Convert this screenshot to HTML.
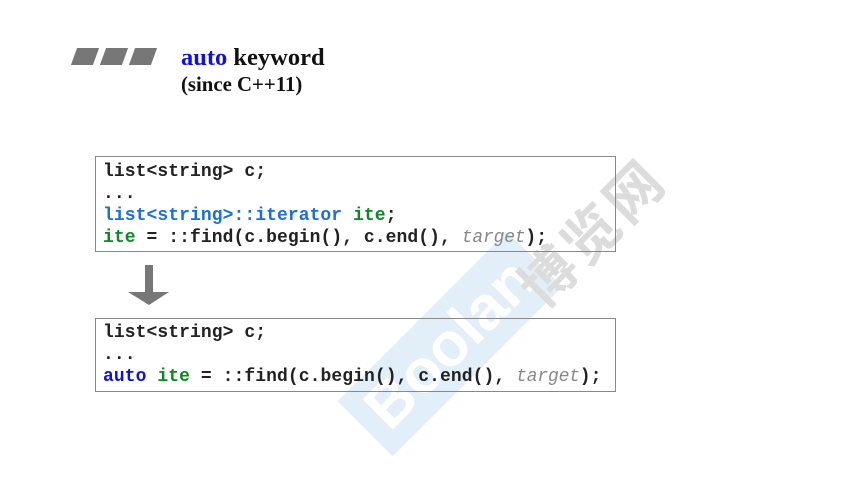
<!DOCTYPE html>
<html><head><meta charset="utf-8"><style>
body{margin:0;width:856px;height:490px;background:#fff;position:relative;overflow:hidden;font-family:"Liberation Sans",sans-serif}
.a{position:absolute}
.bar{position:absolute;top:48px;width:22px;height:17px;background:#777;transform:skewX(-20deg)}
.box{position:absolute;left:95px;width:521px;border:1px solid #888;box-sizing:border-box;background:transparent}
.code{position:absolute;left:103px;font-family:"Liberation Mono",monospace;font-weight:bold;font-size:18px;letter-spacing:0.07px;color:#222;white-space:pre;line-height:22px}
.b{color:#1a6fe0}.g{color:#0a8a20}.k{color:#1010e0}.t{color:#888;font-style:italic;font-weight:normal;letter-spacing:-0.2px}
</style></head><body>
<div class="bar" style="left:74px"></div>
<div class="bar" style="left:103px"></div>
<div class="bar" style="left:132px"></div>
<div class="a" style="left:181px;top:44px;font-family:'Liberation Serif',serif;font-weight:bold;font-size:24.5px;color:#111"><span style="color:#1010e0">auto</span> keyword</div>
<div class="a" style="left:181px;top:73px;font-family:'Liberation Serif',serif;font-weight:bold;font-size:20.8px;color:#111">(since C++11)</div>

<!-- watermark -->
<div class="a" style="left:330px;top:305px;width:240px;height:78px;background:#e2eef8;transform:rotate(-45deg);color:#fff;font-size:62px;font-weight:bold;line-height:78px;text-align:center">Boolan</div>
<div class="a" style="left:500px;top:190px;transform:rotate(-45deg);color:#dcdcdc;font-size:56px;font-weight:bold;font-family:'Noto Sans CJK SC',sans-serif;letter-spacing:4px">博览网</div>

<div class="box" style="top:156px;height:96px"></div>
<div class="code" style="top:161px">list&lt;string&gt; c;
...
<span class="b">list&lt;string&gt;::iterator</span> <span class="g">ite</span>;
<span class="g">ite</span> = ::find(c.begin(), c.end(), <span class="t">target</span>);</div>

<svg class="a" style="left:0;top:0" width="856" height="490"><polygon points="145,265 153,265 153,292 169,292 149,305 128,292 145,292" fill="#777"/></svg>

<div class="box" style="top:318px;height:74px"></div>
<div class="code" style="top:322px">list&lt;string&gt; c;
...
<span class="k">auto</span> <span class="g">ite</span> = ::find(c.begin(), c.end(), <span class="t">target</span>);</div>
</body></html>
